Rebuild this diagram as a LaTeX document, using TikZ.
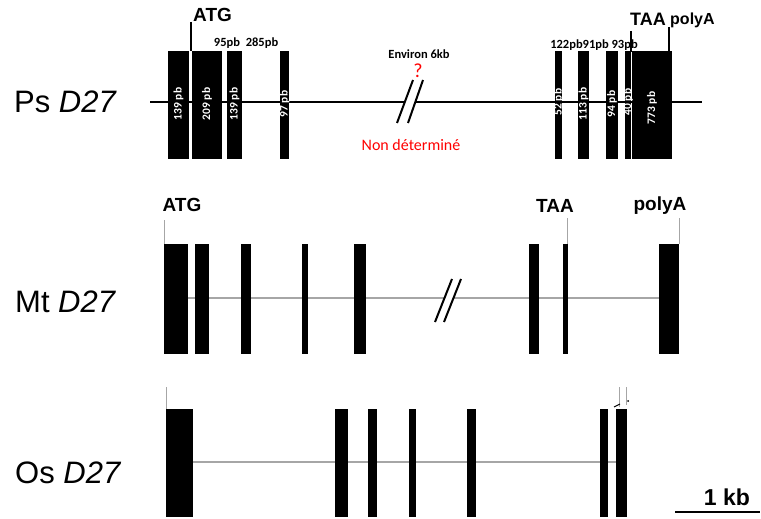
\documentclass[tikz,border=0pt]{standalone}
\usepackage{fontspec}
\setmainfont{Carlito}
\newfontfamily\arialfont{Liberation Sans}
\begin{document}
\begin{tikzpicture}[x=1pt, y=-1pt,
  species/.style={font=\arialfont\fontsize{31}{31}\selectfont, anchor=base west, inner sep=0},
  site/.style={font=\arialfont\bfseries\fontsize{19}{19}\selectfont, inner sep=0},
  size/.style={font=\bfseries\fontsize{12.5}{12.5}\selectfont, inner sep=0},
  exlabel/.style={font=\bfseries\fontsize{11.5}{11.5}\selectfont, text=white, rotate=90, inner sep=0},
  intron/.style={line width=1.5pt, gray!70},
  siteline/.style={line width=1pt, gray!70}]
  \useasboundingbox (0,0) rectangle (761,519);

  % ---- Ps D27 ----
  \node[species] (ps) at (14,113) {Ps \textit{D27}};
  \draw[line width=2pt] (150,102) -- (405,102);
  \draw[line width=2pt] (415,102) -- (702,102);
  \draw[line width=2pt] (397,123) -- (413,80);
  \draw[line width=2pt] (408,123) -- (423,80);
  \foreach \a/\b in {168/189,192/222,227/242,280/289,555/562,578/589,606/618,625/631,632/672}
    \fill (\a,51) rectangle (\b,159);
  \node[exlabel] (e1) at (178.5,104) {139 pb};
  \node[exlabel] (e2) at (207,104) {209 pb};
  \node[exlabel] (e3) at (234.5,104) {139 pb};
  \node[exlabel] (e4) at (284.5,104) {97 pb};
  \node[exlabel] (e5) at (558.5,102) {52 pb};
  \node[exlabel] (e6) at (583.5,104) {113 pb};
  \node[exlabel] (e7) at (612,104) {94 pb};
  \node[exlabel] (e8) at (628,102) {40 pb};
  \node[exlabel] (e9) at (652,108) {773 pb};
  % sites
  \node[site, anchor=west] (atg) at (193,15) {ATG};
  \node[site, anchor=west, font=\arialfont\bfseries\fontsize{18}{18}\selectfont] (taa) at (630,19) {TAA};
  \node[site, anchor=west, font=\arialfont\bfseries\fontsize{16}{16}\selectfont] (polya) at (670,20) {polyA};
  \draw[line width=1.5pt] (191,22) -- (191,51);
  \draw[line width=1.5pt] (631,31) -- (631,52);
  \draw[line width=1.5pt] (669,27) -- (669,52);
  % intron sizes
  \node[size] (i1) at (227,43) {95pb};
  \node[size] (i2) at (262,43) {285pb};
  \node[size] (i3) at (594,45) {122pb91pb 93pb};
  \node[size] (gap) at (419,54) {Environ 6kb};
  \node[font=\fontsize{20}{20}\selectfont, text=red, inner sep=0] (q) at (418,71) {?};
  \node[font=\fontsize{16}{16}\selectfont, text=red, inner sep=0] (nd) at (411,145) {Non déterminé};

  % ---- Mt D27 ----
  \node[species] (mt) at (15,312) {Mt \textit{D27}};
  \draw[intron] (188,298) -- (444,298);
  \draw[intron] (454,298) -- (659,298);
  \draw[line width=2pt] (435,322) -- (452,279);
  \draw[line width=2pt] (444,322) -- (461,279);
  \foreach \a/\b in {164/188,195/209,241/251,302/308,354/366,529/539,563/568,659/679}
    \fill (\a,244) rectangle (\b,354);
  \node[site] (atg2) at (182,205) {ATG};
  \node[site] (taa2) at (555,206) {TAA};
  \node[site] (polya2) at (660,206) {polyA};
  \draw[siteline] (164,220) -- (164,244);
  \draw[siteline] (567,218) -- (567,244);
  \draw[siteline] (679,218) -- (679,244);

  % ---- Os D27 ----
  \node[species] (os) at (15,483) {Os \textit{D27}};
  \draw[intron] (193,462) -- (616,462);
  \foreach \a/\b in {166/193,335/348,368/377,409/416,467/476,600/608,616/627}
    \fill (\a,409) rectangle (\b,517);
  \draw[siteline] (166,387) -- (166,409);
  \draw[siteline] (619,387) -- (619,407);
  \draw[siteline] (626,387) -- (626,405);
  \draw[line width=1pt] (614,407) -- (620,404);
  \fill (628,401) circle (1);

  % scale bar
  \draw[line width=2pt] (675,512) -- (760,512);
  \node[site, font=\arialfont\bfseries\fontsize{23}{23}\selectfont] (kb) at (727,497) {1 kb};
\end{tikzpicture}
\end{document}
